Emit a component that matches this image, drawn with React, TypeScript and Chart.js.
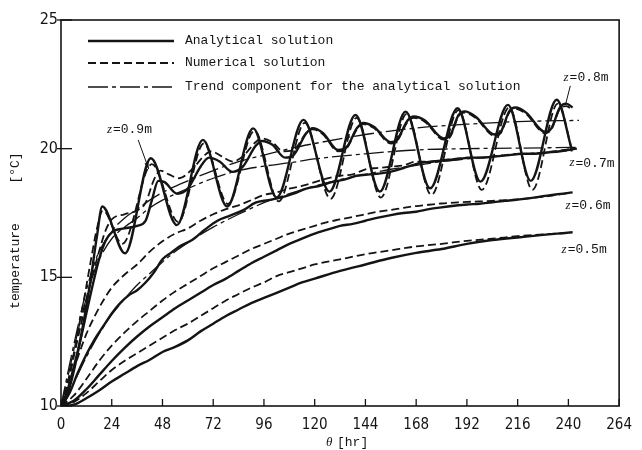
import React, { useEffect, useRef } from "react";
import { Chart, registerables } from "chart.js";

Chart.register(...registerables);

// ---------- axis ticks ----------
const xTickValues = [0, 24, 48, 72, 96, 120, 144, 168, 192, 216, 240, 264];
const yTickValues = [10, 15, 20, 25];

// ---------- legend / labels ----------
const legendLabels = [
  "Analytical solution",
  "Numerical solution",
  "Trend component for the analytical solution",
];
const depthLabels = ["z=0.9m", "z=0.8m", "z=0.7m", "z=0.6m", "z=0.5m"];
// label anchors (theta [hr], temperature)
const depthLabelPos: [number, number][] = [
  [21.7, 20.73],
  [237.7, 22.75],
  [240.5, 19.44],
  [238.6, 17.77],
  [236.8, 16.06],
];

// ---------- series: [theta hr, temperature degC] ----------
const z09Analytical: [number, number][] = [
  [0, 10], [2, 10.2], [5, 11.0], [8, 12.1], [11, 13.4], [14, 14.9], [17, 16.6], [19.5, 17.75],
  [30.3, 15.93], [42.5, 19.63], [54.8, 17.03], [67.1, 20.34], [78.6, 17.75], [90.9, 20.79],
  [102, 18.1], [114.7, 21.12], [127, 18.33], [139.3, 21.31], [150.8, 18.33], [163, 21.44],
  [174.6, 18.46], [187.6, 21.57], [198.4, 18.72], [211.4, 21.7], [222.2, 18.75], [234.5, 21.9],
  [241.5, 20.0],
];
const z09Numerical: [number, number][] = [
  [0, 10], [2, 10.5], [5, 11.6], [8, 12.9], [11, 14.2], [14, 15.6], [17, 16.9], [19.8, 17.6],
  [29, 16.3], [43, 19.4], [55.5, 17.15], [67.5, 20.2], [79, 17.85], [91.5, 20.7], [103, 17.95],
  [115.3, 21.0], [127.5, 18.05], [139.8, 21.2], [151.3, 18.1], [163.5, 21.35], [175.2, 18.2],
  [188, 21.5], [199, 18.4], [212, 21.6], [223, 18.4], [235, 21.75], [242, 19.85],
];
const z09Trend: [number, number][] = [
  [0, 10], [4, 11.4], [8, 12.9], [12, 14.2], [16, 15.3], [20, 16.0], [24, 16.5], [30, 16.95],
  [36, 17.3], [42, 17.7], [48, 18.0], [60, 18.45], [72, 18.85], [84, 19.15], [96, 19.32],
  [108, 19.45], [120, 19.6], [144, 19.8], [168, 19.95], [192, 20.0], [216, 20.02], [244, 20.05],
];
const z08Analytical: [number, number][] = [
  [0, 10], [3, 10.6], [6, 11.5], [9, 12.5], [12, 13.6], [15, 14.7], [18, 15.7], [21, 16.4],
  [24, 16.75], [30, 16.9], [36, 17.0], [40, 17.2], [43, 18.0], [46, 18.75], [49, 18.7],
  [55, 18.25], [60, 18.45], [66, 19.3], [70, 19.65], [75, 19.5], [81, 19.1], [86, 19.3],
  [92, 20.1], [95, 20.3], [100, 20.15], [106, 19.65], [110, 19.75], [116, 20.6], [119, 20.8],
  [124, 20.6], [131, 19.95], [135, 20.05], [140, 20.8], [143, 21.0], [148, 20.85], [156, 20.25],
  [159, 20.35], [164, 21.1], [167, 21.25], [172, 21.1], [181, 20.4], [184, 20.5], [188, 21.3],
  [191, 21.45], [196, 21.25], [205, 20.55], [208, 20.65], [212, 21.45], [215, 21.6], [220, 21.4],
  [229, 20.65], [232, 20.8], [236, 21.6], [239, 21.75], [242, 21.6],
];
const z08Numerical: [number, number][] = [
  [0, 10], [3, 10.8], [6, 11.9], [9, 13.0], [12, 14.1], [15, 15.1], [18, 16.0], [21, 16.8],
  [24, 17.25], [30, 17.45], [36, 17.6], [40, 17.9], [44, 18.8], [47, 19.15], [51, 19.0],
  [56, 18.85], [62, 19.2], [68, 19.75], [71, 19.9], [76, 19.7], [81, 19.5], [86, 19.7],
  [92, 20.25], [95, 20.4], [100, 20.25], [105, 19.9], [110, 19.95], [116, 20.6], [119, 20.75],
  [124, 20.55], [131, 19.9], [135, 20.0], [140, 20.75], [143, 20.95], [148, 20.8], [156, 20.2],
  [159, 20.3], [164, 21.05], [167, 21.2], [172, 21.05], [181, 20.35], [184, 20.45], [188, 21.25],
  [191, 21.4], [196, 21.2], [205, 20.5], [208, 20.6], [212, 21.4], [215, 21.55], [220, 21.35],
  [229, 20.6], [232, 20.75], [236, 21.55], [239, 21.65], [242, 21.5],
];
const z08Trend: [number, number][] = [
  [0, 10], [4, 11.6], [8, 13.1], [12, 14.5], [16, 15.6], [20, 16.3], [24, 16.8], [30, 17.3],
  [36, 17.65], [42, 18.0], [48, 18.3], [60, 18.75], [72, 19.15], [84, 19.5], [96, 19.75],
  [108, 20.0], [120, 20.2], [144, 20.55], [168, 20.8], [192, 20.95], [216, 21.05], [245, 21.1],
];
const z07Analytical: [number, number][] = [
  [0, 10], [4, 10.5], [8, 11.3], [12, 12.0], [16, 12.6], [20, 13.1], [24, 13.6], [28, 14.0],
  [32, 14.3], [36, 14.5], [40, 14.8], [44, 15.2], [48, 15.7], [52, 15.95], [56, 16.2],
  [62, 16.45], [68, 16.85], [74, 17.2], [80, 17.4], [86, 17.6], [92, 17.9], [98, 18.0],
  [104, 18.1], [110, 18.25], [116, 18.45], [122, 18.55], [128, 18.7], [134, 18.8], [140, 18.95],
  [146, 19.0], [152, 19.05], [158, 19.15], [164, 19.3], [170, 19.45], [176, 19.5], [182, 19.55],
  [188, 19.6], [194, 19.65], [200, 19.65], [206, 19.7], [212, 19.75], [218, 19.8], [224, 19.8],
  [230, 19.85], [236, 19.9], [244, 20.0],
];
const z07Numerical: [number, number][] = [
  [0, 10], [4, 10.9], [8, 11.9], [12, 12.8], [16, 13.5], [20, 14.1], [24, 14.6], [30, 15.1],
  [36, 15.5], [42, 16.0], [48, 16.4], [54, 16.7], [60, 16.9], [66, 17.2], [72, 17.45],
  [78, 17.65], [84, 17.8], [90, 18.0], [96, 18.2], [102, 18.3], [108, 18.45], [114, 18.55],
  [120, 18.7], [126, 18.85], [132, 18.95], [138, 19.0], [144, 19.2], [150, 19.25], [156, 19.3],
  [162, 19.35], [168, 19.5], [174, 19.5], [180, 19.55], [186, 19.6], [192, 19.65], [198, 19.65],
  [204, 19.7], [210, 19.75], [216, 19.8], [222, 19.8], [228, 19.85], [234, 19.9], [242, 20.0],
];
const z07Trend: [number, number][] = [
  [0, 10], [6, 10.9], [12, 11.9], [18, 12.8], [24, 13.55], [30, 14.15], [36, 14.7], [42, 15.15],
  [48, 15.6], [54, 16.0], [60, 16.35], [72, 16.95], [84, 17.45], [96, 17.9], [108, 18.25],
  [120, 18.55], [132, 18.8], [144, 19.0], [156, 19.2], [168, 19.35], [180, 19.5], [192, 19.6],
  [204, 19.7], [216, 19.78], [228, 19.85], [242, 19.92],
];
const z06Analytical: [number, number][] = [
  [0, 10], [6, 10.2], [12, 10.65], [18, 11.2], [24, 11.75], [30, 12.25], [36, 12.7], [42, 13.1],
  [48, 13.45], [54, 13.8], [60, 14.1], [66, 14.4], [72, 14.7], [78, 14.95], [84, 15.25],
  [90, 15.55], [96, 15.8], [102, 16.05], [108, 16.3], [114, 16.5], [120, 16.7], [126, 16.85],
  [132, 17.0], [138, 17.08], [144, 17.2], [150, 17.32], [156, 17.42], [162, 17.5], [168, 17.55],
  [174, 17.65], [180, 17.72], [186, 17.78], [192, 17.83], [198, 17.86], [204, 17.92],
  [210, 17.97], [216, 18.02], [222, 18.08], [228, 18.15], [234, 18.22], [242, 18.3],
];
const z06Numerical: [number, number][] = [
  [0, 10], [6, 10.4], [12, 11.05], [18, 11.75], [24, 12.35], [30, 12.85], [36, 13.3], [42, 13.7],
  [48, 14.1], [54, 14.45], [60, 14.75], [66, 15.05], [72, 15.35], [78, 15.6], [84, 15.85],
  [90, 16.1], [96, 16.3], [102, 16.5], [108, 16.7], [114, 16.85], [120, 17.0], [126, 17.15],
  [132, 17.25], [138, 17.35], [144, 17.45], [150, 17.55], [156, 17.62], [162, 17.7], [168, 17.77],
  [174, 17.82], [180, 17.87], [186, 17.9], [192, 17.93], [198, 17.95], [204, 17.97], [210, 18.0],
  [216, 18.03], [222, 18.08], [228, 18.13], [234, 18.2], [240, 18.27],
];
const z05Analytical: [number, number][] = [
  [0, 10], [6, 10.05], [12, 10.3], [18, 10.6], [24, 10.95], [30, 11.25], [36, 11.55], [42, 11.8],
  [48, 12.1], [54, 12.3], [60, 12.55], [66, 12.9], [72, 13.2], [78, 13.5], [84, 13.75], [90, 14.0],
  [96, 14.2], [102, 14.4], [108, 14.6], [114, 14.8], [120, 14.95], [132, 15.25], [144, 15.5],
  [156, 15.75], [168, 15.95], [180, 16.1], [192, 16.3], [204, 16.45], [216, 16.55], [228, 16.65],
  [242, 16.75],
];
const z05Numerical: [number, number][] = [
  [0, 10], [6, 10.15], [12, 10.5], [18, 10.95], [24, 11.4], [30, 11.75], [36, 12.05], [42, 12.35],
  [48, 12.65], [54, 12.95], [60, 13.2], [66, 13.5], [72, 13.8], [78, 14.1], [84, 14.35], [90, 14.6],
  [96, 14.8], [102, 15.05], [108, 15.2], [114, 15.35], [120, 15.5], [132, 15.7], [144, 15.9],
  [156, 16.05], [168, 16.2], [180, 16.3], [192, 16.42], [204, 16.5], [216, 16.6], [228, 16.67],
  [240, 16.72],
];

// ---------- styles ----------
const INK = "#141414";
const SOLID: number[] = [];
const DASH = [8, 4];
const DASHDOT = [20, 4, 4, 4];
const MONO = "'Liberation Mono', 'DejaVu Sans Mono', monospace";
const TICKFONT = "'DejaVu Sans Condensed', 'Liberation Sans Narrow', 'DejaVu Sans', sans-serif";

type Kind = "a" | "n" | "t";
const seriesList: { name: string; pts: [number, number][]; kind: Kind }[] = [
  { name: "z=0.5 analytical", pts: z05Analytical, kind: "a" },
  { name: "z=0.5 numerical", pts: z05Numerical, kind: "n" },
  { name: "z=0.6 analytical", pts: z06Analytical, kind: "a" },
  { name: "z=0.6 numerical", pts: z06Numerical, kind: "n" },
  { name: "z=0.7 analytical", pts: z07Analytical, kind: "a" },
  { name: "z=0.7 numerical", pts: z07Numerical, kind: "n" },
  { name: "z=0.7 trend", pts: z07Trend, kind: "t" },
  { name: "z=0.8 analytical", pts: z08Analytical, kind: "a" },
  { name: "z=0.8 numerical", pts: z08Numerical, kind: "n" },
  { name: "z=0.8 trend", pts: z08Trend, kind: "t" },
  { name: "z=0.9 analytical", pts: z09Analytical, kind: "a" },
  { name: "z=0.9 numerical", pts: z09Numerical, kind: "n" },
  { name: "z=0.9 trend", pts: z09Trend, kind: "t" },
];

function styleFor(kind: Kind) {
  if (kind === "a") return { borderWidth: 2.4, borderDash: SOLID };
  if (kind === "n") return { borderWidth: 1.8, borderDash: DASH };
  return { borderWidth: 1.3, borderDash: DASHDOT };
}

const decoPlugin = {
  id: "deco",
  afterDraw(chart: any) {
    const { ctx, chartArea: a, scales } = chart;
    const xs = scales.x;
    const ys = scales.y;
    const line = (x1: number, y1: number, x2: number, y2: number) => {
      ctx.beginPath();
      ctx.moveTo(x1, y1);
      ctx.lineTo(x2, y2);
      ctx.stroke();
    };
    ctx.save();
    ctx.strokeStyle = INK;
    ctx.fillStyle = INK;
    ctx.setLineDash([]);
    ctx.lineWidth = 1.6;
    ctx.strokeRect(a.left, a.top, a.right - a.left, a.bottom - a.top);
    ctx.lineWidth = 1.3;
    xTickValues.forEach((v) => {
      const px = xs.getPixelForValue(v);
      line(px, a.bottom, px, a.bottom - 7);
    });
    yTickValues.forEach((v) => {
      const py = ys.getPixelForValue(v);
      line(a.left - 4, py, a.left + 11, py);
    });

    // legend
    const lx1 = 88;
    const lx2 = 174;
    const ly = [41, 63, 87];
    const dashes = [SOLID, DASH, DASHDOT];
    const widths = [2.4, 1.8, 1.3];
    ctx.font = `13px ${MONO}`;
    ctx.textBaseline = "middle";
    ctx.textAlign = "left";
    legendLabels.forEach((lab, i) => {
      ctx.setLineDash(dashes[i]);
      ctx.lineWidth = widths[i];
      line(lx1, ly[i], lx2, ly[i]);
      ctx.setLineDash([]);
      ctx.fillText(lab, 185, ly[i]);
    });

    // depth labels
    depthLabels.forEach((lab, i) => {
      const px = xs.getPixelForValue(depthLabelPos[i][0]);
      const py = ys.getPixelForValue(depthLabelPos[i][1]);
      ctx.font = `italic 13px 'Liberation Serif', serif`;
      ctx.fillText(lab.slice(0, 1), px, py);
      const w = ctx.measureText("z").width;
      ctx.font = `13px ${MONO}`;
      ctx.fillText(lab.slice(1), px + w + 1, py);
    });

    // arrows
    const arrow = (t1: number, v1: number, t2: number, v2: number, head: boolean) => {
      const x1 = xs.getPixelForValue(t1);
      const y1 = ys.getPixelForValue(v1);
      const x2 = xs.getPixelForValue(t2);
      const y2 = ys.getPixelForValue(v2);
      ctx.lineWidth = 1;
      line(x1, y1, x2, y2);
      if (head) {
        const ang = Math.atan2(y2 - y1, x2 - x1);
        ctx.beginPath();
        ctx.moveTo(x2, y2);
        ctx.lineTo(x2 - 7 * Math.cos(ang - 0.3), y2 - 7 * Math.sin(ang - 0.3));
        ctx.lineTo(x2 - 7 * Math.cos(ang + 0.3), y2 - 7 * Math.sin(ang + 0.3));
        ctx.closePath();
        ctx.fill();
      }
    };
    arrow(36.5, 20.34, 41.5, 19.21, true);
    arrow(240.9, 22.44, 238.6, 21.7, false);

    // axis titles
    ctx.font = `13px ${MONO}`;
    ctx.textAlign = "center";
    ctx.save();
    ctx.translate(16, 266);
    ctx.rotate(-Math.PI / 2);
    ctx.fillText("temperature", 0, 0);
    ctx.restore();
    ctx.save();
    ctx.translate(16, 168);
    ctx.rotate(-Math.PI / 2);
    ctx.fillText("[°C]", 0, 0);
    ctx.restore();
    ctx.textAlign = "left";
    ctx.font = `italic 13px 'Liberation Serif', serif`;
    ctx.fillText("θ", 326, 443);
    ctx.font = `13px ${MONO}`;
    ctx.fillText("[hr]", 337, 443);
    ctx.restore();
  },
};

export default function App() {
  const ref = useRef<HTMLCanvasElement | null>(null);
  useEffect(() => {
    if (!ref.current) return;
    const datasets = seriesList.map((s) => ({
      label: s.name,
      data: s.pts.map(([x, y]) => ({ x, y })),
      borderColor: INK,
      backgroundColor: INK,
      pointRadius: 0,
      fill: false,
      cubicInterpolationMode: "monotone" as const,
      borderCapStyle: "butt" as const,
      ...styleFor(s.kind),
    }));
    const chart = new Chart(ref.current, {
      type: "line",
      data: { datasets },
      options: {
        animation: false,
        responsive: false,
        events: [],
        layout: { padding: { top: 20, right: 9, left: 0, bottom: 0 } },
        plugins: { legend: { display: false }, tooltip: { enabled: false }, title: { display: false } },
        scales: {
          x: {
            type: "linear",
            min: 0,
            max: 264,
            afterFit: (s: any) => {
              s.height = 44;
            },
            afterBuildTicks: (s: any) => {
              s.ticks = xTickValues.map((v) => ({ value: v }));
            },
            grid: { display: false, drawTicks: false },
            border: { display: false },
            ticks: {
              autoSkip: false,
              maxRotation: 0,
              padding: 10,
              color: INK,
              font: { family: TICKFONT, size: 15 },
            },
          },
          y: {
            type: "linear",
            min: 10,
            max: 25,
            afterFit: (s: any) => {
              s.width = 61;
            },
            afterBuildTicks: (s: any) => {
              s.ticks = yTickValues.map((v) => ({ value: v }));
            },
            grid: { display: false, drawTicks: false },
            border: { display: false },
            ticks: {
              padding: 3,
              color: INK,
              font: { family: TICKFONT, size: 16 },
            },
          },
        },
      },
      plugins: [decoPlugin],
    });
    return () => chart.destroy();
  }, []);
  return (
    <div style={{ position: "absolute", left: 0, top: 0, width: 642, height: 450, background: "#fff" }}>
      <canvas ref={ref} width={642} height={450} />
    </div>
  );
}
